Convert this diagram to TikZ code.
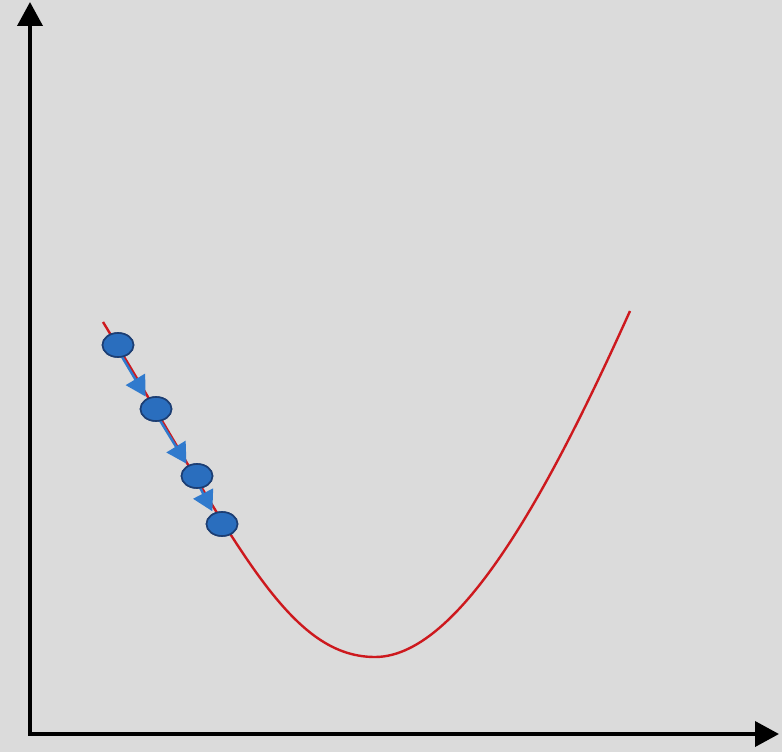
\documentclass[tikz,border=0pt]{standalone}
\usetikzlibrary{positioning, arrows.meta, shapes.geometric}
\definecolor{bgcolor}{RGB}{219,219,219}
\definecolor{losscolor}{RGB}{205,25,30}
\definecolor{ballcolor}{RGB}{42,110,190}
\definecolor{balledge}{RGB}{28,62,115}
\definecolor{stepcolor}{RGB}{48,122,205}

\begin{document}
\begin{tikzpicture}[x=1pt, y=-1pt,
    axis/.style={line width=3.8pt, -{Triangle[length=24pt,width=25pt]}},
    ball/.style={ellipse, fill=ballcolor, draw=balledge, line width=1.6pt,
        minimum width=31pt, minimum height=24pt, inner sep=0pt},
    gdstep/.style={stepcolor, line width=2.5pt, shorten >=1pt,
        -{Triangle[length=20pt,width=22pt]}, transform canvas={xshift=-3pt}}]
        \fill[bgcolor] (0,0) rectangle (782,752);
        \useasboundingbox (0,0) rectangle (782,752);
        % axes
        \coordinate (origin) at (30,734);
        \coordinate (ytop) at (30,2);
        \coordinate (xend) at (779,734);
        \draw[axis] ([yshift=2pt]origin) -- (ytop);
        \draw[axis] ([xshift=-2pt]origin) -- (xend);
        % loss curve
        \coordinate (start) at (103,322);
        \coordinate (minimum) at (375,657);
        \coordinate (stop) at (630,311);
        \draw[losscolor, line width=2.4pt] (start)
            .. controls (233,535) and (285,657) .. (minimum)
            .. controls (465,657) and (560,466) .. (stop);
        % descent steps
        \node[ball] (b1) at (118,345) {};
        \node[ball] (b2) at (156,409) {};
        \node[ball] (b3) at (197,476) {};
        \node[ball] (b4) at (222,524) {};
        \draw[gdstep] (b1) -- (b2);
        \draw[gdstep] (b2) -- (b3);
        \draw[gdstep] (b3) -- (b4);
        \node[ball] at (b1) {};
        \node[ball] at (b2) {};
        \node[ball] at (b3) {};
        \node[ball] at (b4) {};
    \end{tikzpicture}
\end{document}
